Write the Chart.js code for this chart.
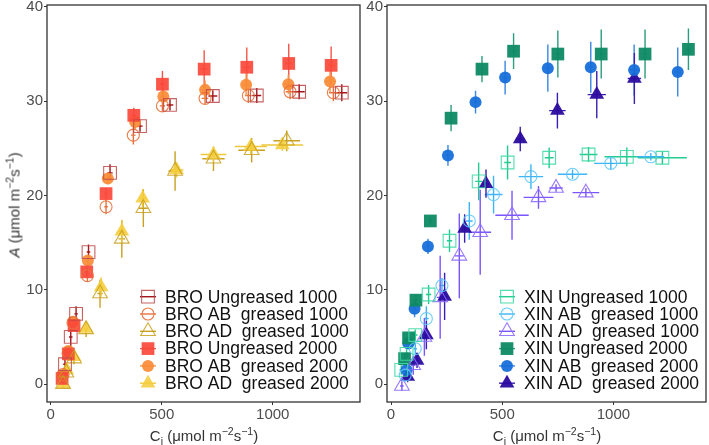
<!DOCTYPE html>
<html lang="en">
<head>
  <meta charset="UTF-8">
  <title>A/Ci curves - BRO and XIN</title>
  <script src="https://cdn.jsdelivr.net/npm/chart.js"></script>
  <style>
    body { margin: 0; background: #fff; font-family: "Liberation Sans", Arial, sans-serif; }
    #wrap { position: relative; width: 709px; height: 445px; overflow: hidden; }
    canvas { position: absolute; top: 0; }
    #bro { left: 0; }
    #xin { left: 362px; }
    .xtitle { position: absolute; top: 427px; font-size: 15px; color: #333; white-space: nowrap; transform: translateX(-50%); }
    .ytitle { position: absolute; left: 14px; top: 205px; font-size: 15px; color: #333; white-space: nowrap; transform: translate(-50%, -50%) rotate(-90deg); }
    sup, sub { font-size: 70%; line-height: 0; }
  </style>
</head>
<body>
<div id="wrap">
  <canvas id="bro" width="362" height="445"></canvas>
  <canvas id="xin" width="347" height="445"></canvas>
  <div class="ytitle"><i>A</i> (μmol m<sup>−2</sup>s<sup>−1</sup>)</div>
  <div class="xtitle" style="left:204px">C<sub>i</sub> (μmol m<sup>−2</sup>s<sup>−1</sup>)</div>
  <div class="xtitle" style="left:547px">C<sub>i</sub> (μmol m<sup>−2</sup>s<sup>−1</sup>)</div>
</div>

<script>
  // axis ticks
  const xTicks = [0, 500, 1000];
  const yTicks = [0, 10, 20, 30, 40];

  // each row: [Ci, A, Ci error, A error]
  const broUng1000 = [[64, 2.1, 8, 0.6], [90, 5.0, 8, 1.1], [114, 7.45, 8, 0.8], [170, 14.0, 8, 0.8],
    [267, 22.4, 12, 0.9], [402, 27.35, 12, 0.6], [537, 29.6, 15, 0.6], [730, 30.55, 20, 0.6],
    [928, 30.6, 20, 0.8], [1119, 31.0, 25, 0.8], [1311, 30.9, 25, 0.9]];
  const broAb1000 = [[55, 1.0, 5, 0.5], [78, 3.3, 5, 0.5], [100, 6.5, 6, 0.6], [165, 11.5, 6, 0.6],
    [249, 18.8, 8, 0.8], [372, 26.4, 10, 1.0], [503, 29.5, 12, 0.6], [695, 30.3, 15, 0.6],
    [890, 30.6, 15, 0.8], [1078, 31.0, 20, 0.8], [1273, 30.9, 20, 0.9]];
  const broAd1000 = [[55, 0.0, 6, 0.4], [70, 1.2, 6, 0.5], [105, 2.7, 8, 0.6], [159, 5.8, 10, 0.8],
    [222, 9.6, 12, 1.5], [320, 15.4, 15, 2.0], [417, 18.65, 20, 2.0], [560, 22.6, 30, 2.1],
    [733, 23.9, 50, 1.3], [905, 24.8, 60, 1.3], [1063, 25.8, 60, 1.1]];
  const broUng2000 = [[51, 0.6, 5, 0.4], [79, 3.2, 5, 0.5], [105, 6.2, 6, 0.6], [162, 11.9, 6, 0.5],
    [249, 20.2, 8, 0.6], [374, 28.5, 8, 0.8], [503, 31.8, 12, 1.4], [691, 33.4, 15, 2.0],
    [883, 33.6, 15, 2.1], [1072, 34.0, 15, 2.1], [1263, 33.8, 15, 2.0]];
  const broAb2000 = [[53, 0.9, 5, 0.4], [79, 3.5, 5, 0.5], [100, 6.6, 6, 0.6], [167, 13.1, 6, 0.5],
    [257, 21.8, 8, 0.6], [380, 27.8, 10, 0.8], [507, 30.5, 12, 1.0], [695, 31.2, 15, 1.0],
    [880, 31.75, 15, 1.2], [1070, 31.8, 20, 1.0], [1258, 32.1, 25, 1.2]];
  const broAd2000 = [[57, 0.0, 6, 0.4], [72, 1.5, 6, 0.5], [105, 2.9, 8, 0.5], [159, 5.9, 10, 0.6],
    [227, 10.3, 12, 1.0], [320, 16.2, 15, 1.2], [414, 19.7, 15, 1.0], [567, 22.7, 30, 0.8],
    [733, 24.35, 58, 0.8], [901, 25.2, 72, 0.8], [1043, 25.35, 94, 0.6]];

  const xinUng1000 = [[46, 1.5, 8, 0.5], [70, 3.2, 8, 0.5], [109, 5.2, 10, 0.6], [169, 9.5, 12, 1.0],
    [263, 15.2, 12, 1.2], [394, 21.5, 15, 2.0], [524, 23.5, 15, 1.8], [711, 24.0, 20, 1.1],
    [888, 24.35, 40, 0.8], [1060, 24.1, 100, 1.0], [1220, 24.0, 110, 0.7]];
  const xinAb1000 = [[64, 0.95, 8, 0.5], [109, 3.75, 8, 0.6], [159, 6.95, 10, 1.3], [229, 10.45, 12, 0.8],
    [352, 17.3, 15, 2.0], [461, 20.1, 40, 2.0], [629, 22.0, 55, 1.3], [816, 22.25, 66, 0.5],
    [988, 23.4, 75, 0.6], [1168, 24.1, 60, 0.4]];
  const xinAd1000 = [[49, -0.2, 8, 0.5], [100, 2.0, 10, 1.0], [150, 5.0, 12, 2.0], [221, 9.2, 15, 4.4],
    [307, 13.6, 20, 4.5], [401, 16.1, 49, 4.5], [544, 17.9, 75, 2.6], [663, 19.8, 67, 1.2],
    [742, 20.8, 30, 0.4], [876, 20.3, 60, 0.5]];
  const xinUng2000 = [[61, 2.7, 6, 0.5], [79, 4.9, 6, 0.5], [112, 8.9, 8, 0.6], [177, 17.3, 8, 0.4],
    [270, 28.2, 8, 1.4], [409, 33.4, 10, 1.4], [551, 35.3, 10, 1.9], [750, 35.0, 10, 2.5],
    [945, 35.0, 10, 2.6], [1142, 35.0, 10, 2.6], [1337, 35.5, 10, 2.2]];
  const xinAb2000 = [[70, 1.5, 6, 0.5], [78, 4.3, 6, 0.5], [106, 8.0, 8, 0.9], [166, 14.6, 8, 0.8],
    [256, 24.25, 8, 1.1], [380, 29.9, 10, 1.2], [513, 32.5, 10, 1.8], [705, 33.5, 10, 2.5],
    [898, 33.6, 10, 2.7], [1093, 33.3, 25, 2.7], [1289, 33.1, 15, 2.6]];
  const xinAd2000 = [[75, 0.8, 8, 0.6], [117, 2.5, 8, 0.8], [159, 5.2, 10, 1.5], [241, 9.3, 12, 2.5],
    [331, 16.5, 12, 1.5], [427, 21.25, 15, 1.5], [581, 26.0, 20, 1.3], [748, 29.0, 37, 1.9],
    [925, 30.7, 41, 2.5], [1094, 32.4, 30, 2.7]];

  const broLabels = ['BRO Ungreased 1000', 'BRO AB  greased 1000', 'BRO AD  greased 1000',
    'BRO Ungreased 2000', 'BRO AB  greased 2000', 'BRO AD  greased 2000'];
  const xinLabels = ['XIN Ungreased 1000', 'XIN AB  greased 1000', 'XIN AD  greased 1000',
    'XIN Ungreased 2000', 'XIN AB  greased 2000', 'XIN AD  greased 2000'];

  // marker styles: [pointStyle, radius, filled, marker colour, error bar colour]
  const broStyles = [
    ['rect', 9, false, 'rgba(190,70,70,0.85)', '#a3141b'],
    ['circle', 6, false, 'rgba(232,112,56,0.9)', '#e8703a'],
    ['triangle', 8.5, false, 'rgba(200,160,30,0.85)', '#c9a020'],
    ['rect', 9, true, 'rgba(250,72,58,0.92)', '#f4564a'],
    ['circle', 6, true, 'rgba(250,140,55,0.92)', '#f7913f'],
    ['triangle', 8.5, true, 'rgba(245,205,60,0.88)', '#eec83a']
  ];
  const xinStyles = [
    ['rect', 9, false, 'rgba(62,217,166,0.9)', '#22cc8f'],
    ['circle', 6, false, 'rgba(94,198,251,0.9)', '#3db4f5'],
    ['triangle', 8.5, false, 'rgba(142,108,255,0.9)', '#7b55ff'],
    ['rect', 9, true, 'rgba(13,138,99,0.95)', '#2a9d7c'],
    ['circle', 6, true, 'rgba(23,111,217,0.95)', '#3b86e0'],
    ['triangle', 8.5, true, 'rgba(43,11,159,0.95)', '#3a20b0']
  ];

  // vertical and horizontal error bars, drawn under the markers
  const errorBars = {
    id: 'errorBars',
    beforeDatasetsDraw(chart) {
      const { ctx, scales: { x, y } } = chart;
      ctx.save();
      ctx.lineWidth = 1.4;
      chart.data.datasets.forEach(ds => {
        ctx.strokeStyle = ds.errColor;
        ds.rows.forEach(r => {
          const px = x.getPixelForValue(r[0]);
          const py = y.getPixelForValue(r[1]);
          ctx.beginPath();
          ctx.moveTo(x.getPixelForValue(r[0] - r[2]), py);
          ctx.lineTo(x.getPixelForValue(r[0] + r[2]), py);
          ctx.moveTo(px, y.getPixelForValue(r[1] - r[3]));
          ctx.lineTo(px, y.getPixelForValue(r[1] + r[3]));
          ctx.stroke();
        });
      });
      ctx.restore();
    }
  };

  // panel border
  const frame = {
    id: 'frame',
    afterDraw(chart) {
      const { ctx, chartArea: a } = chart;
      ctx.save();
      ctx.strokeStyle = '#333';
      ctx.lineWidth = 1.3;
      ctx.strokeRect(a.left, a.top, a.right - a.left, a.bottom - a.top);
      ctx.restore();
    }
  };

  // legend inside the bottom right of the panel
  const insideLegend = {
    id: 'insideLegend',
    afterDraw(chart, args, opts) {
      const { ctx, chartArea: a } = chart;
      ctx.save();
      ctx.font = '17.5px "Liberation Sans", Arial, sans-serif';
      ctx.textBaseline = 'middle';
      chart.data.datasets.forEach((ds, i) => {
        const mx = a.left + opts.x;
        const my = a.bottom - opts.bottom + i * opts.step;
        ctx.strokeStyle = ds.errColor;
        ctx.lineWidth = 1.4;
        ctx.beginPath();
        ctx.moveTo(mx - 8, my);
        ctx.lineTo(mx + 8, my);
        ctx.stroke();
        ctx.fillStyle = ds.backgroundColor;
        ctx.strokeStyle = ds.borderColor;
        ctx.lineWidth = ds.borderWidth;
        Chart.helpers.drawPoint(ctx, { pointStyle: ds.pointStyle, radius: ds.pointRadius, rotation: 0, borderWidth: ds.borderWidth }, mx, my);
        ctx.fillStyle = '#111';
        ctx.fillText(ds.label, mx + 17, my + 1);
      });
      ctx.restore();
    }
  };

  function makeDatasets(series, labels, styles) {
    return series.map((rows, i) => {
      const [shape, radius, filled, color, errColor] = styles[i];
      return {
        label: labels[i],
        rows: rows,
        errColor: errColor,
        data: rows.map(r => ({ x: r[0], y: r[1] })),
        pointStyle: shape,
        pointRadius: radius,
        pointHoverRadius: radius,
        backgroundColor: filled ? color : 'rgba(0,0,0,0)',
        borderColor: color,
        borderWidth: filled ? 0 : 1.1
      };
    });
  }

  // no extra room for the end tick labels: the panel edges are fixed
  function noPadding(s) {
    s.paddingLeft = 0; s.paddingRight = 0; s.paddingTop = 0; s.paddingBottom = 0;
  }

  function makeChart(id, datasets, opt) {
    const tickFont = { family: '"Liberation Sans", Arial, sans-serif', size: 15 };
    return new Chart(document.getElementById(id), {
      type: 'scatter',
      data: { datasets: datasets },
      options: {
        responsive: false,
        animation: false,
        layout: { autoPadding: false, padding: { left: 0, right: opt.padRight, top: 5, bottom: 0 } },
        plugins: {
          legend: { display: false },
          tooltip: { enabled: false },
          insideLegend: { x: opt.legendX, bottom: 105.3, step: 17.3 }
        },
        scales: {
          x: {
            type: 'linear',
            min: opt.xMin, max: opt.xMax,
            afterBuildTicks: s => { s.ticks = xTicks.map(v => ({ value: v })); },
            afterFit: s => { s.height = 43; noPadding(s); },
            grid: { drawOnChartArea: false, tickLength: 3, tickColor: '#333' },
            border: { display: false },
            ticks: { color: '#4d4d4d', font: tickFont, padding: 1, maxRotation: 0, callback: v => String(v) }
          },
          y: {
            min: -1.9, max: 40.2,
            afterBuildTicks: s => { s.ticks = yTicks.map(v => ({ value: v })); },
            afterFit: s => { s.width = opt.yWidth; noPadding(s); },
            grid: { drawOnChartArea: false, tickLength: 3, tickColor: '#333' },
            border: { display: false },
            ticks: { color: '#4d4d4d', font: tickFont, padding: 1, callback: v => String(v) }
          }
        }
      },
      plugins: [errorBars, frame, insideLegend]
    });
  }

  makeChart('bro', makeDatasets([broUng1000, broAb1000, broAd1000, broUng2000, broAb2000, broAd2000], broLabels, broStyles),
    { xMin: -17, xMax: 1393, yWidth: 47, padRight: 2, legendX: 101 });
  makeChart('xin', makeDatasets([xinUng1000, xinAb1000, xinAd1000, xinUng2000, xinAb2000, xinAd2000], xinLabels, xinStyles),
    { xMin: -18, xMax: 1416, yWidth: 25, padRight: 3, legendX: 120 });
</script>
</body>
</html>
